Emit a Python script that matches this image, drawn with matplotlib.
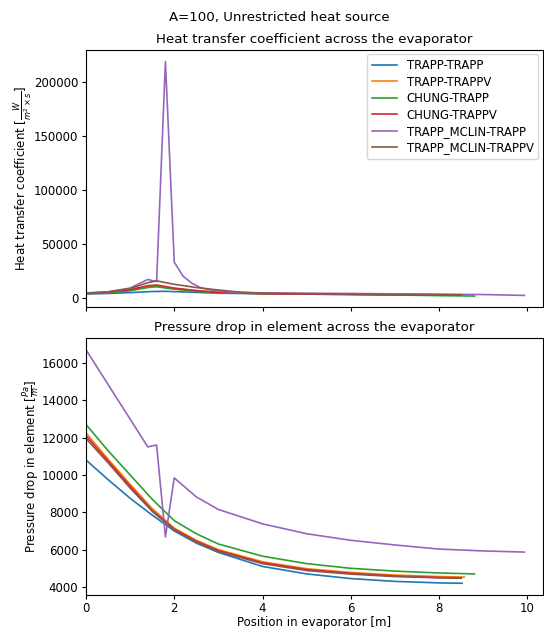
import numpy as np
import matplotlib
matplotlib.use('Agg')
import matplotlib.pyplot as plt

plt.rcParams['font.size'] = 8.5
plt.rcParams['xtick.major.size'] = 3
plt.rcParams['ytick.major.size'] = 3
plt.rcParams['xtick.major.pad'] = 2.0
plt.rcParams['ytick.major.pad'] = 2.5

labels = ['TRAPP-TRAPP', 'TRAPP-TRAPPV', 'CHUNG-TRAPP', 'CHUNG-TRAPPV',
          'TRAPP_MCLIN-TRAPP', 'TRAPP_MCLIN-TRAPPV']
colors = ['#1f77b4', '#ff7f0e', '#2ca02c', '#d62728', '#9467bd', '#8c564b']

# heat transfer coefficient (top panel)
x_htc_blue = [0, 0.5, 1, 1.5, 1.8, 2.5, 3, 4, 5, 6, 7, 8, 8.5]
htc_blue = [3500, 4000, 4800, 5800, 6000, 5000, 4200, 3800, 3500, 3300, 3100, 2900, 2800]
x_htc_orange = [0, 0.5, 1, 1.4, 1.6, 2, 2.5, 3, 4, 5, 6, 7, 8, 8.57]
htc_orange = [4000, 5000, 7000, 10500, 11000, 8500, 6500, 5000, 4000, 3600, 3300, 3000, 2800, 2700]
x_htc_green = [0, 0.5, 1, 1.4, 1.6, 2, 2.5, 3, 4, 5, 6, 7, 8, 8.8]
htc_green = [3800, 4800, 6500, 9500, 10200, 8000, 6000, 4800, 3800, 3400, 3100, 2600, 2000, 1600]
x_htc_red = [0, 0.5, 1, 1.4, 1.6, 2, 2.5, 3, 4, 5, 6, 7, 8, 8.5]
htc_red = [4000, 5200, 7500, 11200, 11800, 9000, 6700, 5000, 3800, 3400, 3000, 2800, 2700, 2600]
x_htc_purple = [0, 0.5, 1, 1.2, 1.4, 1.6, 1.8, 2.0, 2.2, 2.4, 2.6, 2.8, 3.0, 3.4,
                4, 5, 6, 7, 8, 9, 9.93]
htc_purple = [4500, 5500, 9000, 13000, 17000, 15000, 219000, 33000, 20000, 13500,
              9300, 7500, 6200, 5000, 4500, 4200, 4000, 3600, 3300, 3000, 2200]
x_htc_brown = [0, 0.5, 1, 1.4, 1.6, 2, 2.5, 3, 3.5, 4, 5, 6, 7, 8, 8.5]
htc_brown = [4200, 5500, 8500, 14000, 15700, 12500, 9500, 7200, 5200, 4300, 3800, 3400, 3000, 2800, 2700]

# pressure drop (bottom panel)
x_dp_blue = [0, 0.5, 1, 1.5, 2, 2.5, 3, 4, 5, 6, 7, 8, 8.52]
dp_blue = [10800, 9750, 8750, 7850, 7000, 6350, 5850, 5100, 4700, 4450, 4300, 4220, 4200]
x_dp_orange = [0, 0.5, 1, 1.5, 2, 2.5, 3, 4, 5, 6, 7, 8, 8.57]
dp_orange = [12250, 10850, 9500, 8200, 7150, 6500, 6000, 5350, 4980, 4780, 4640, 4560, 4530]
x_dp_green = [0, 0.5, 1, 1.5, 2, 2.5, 3, 4, 5, 6, 7, 8, 8.8]
dp_green = [12700, 11300, 10000, 8700, 7550, 6850, 6300, 5650, 5250, 5000, 4850, 4750, 4700]
x_dp_red = [0, 0.5, 1, 1.5, 2, 2.5, 3, 4, 5, 6, 7, 8, 8.5]
dp_red = [12100, 10750, 9400, 8100, 7100, 6450, 5950, 5300, 4930, 4730, 4590, 4510, 4490]
x_dp_purple = [0, 0.7, 1.4, 1.6, 1.8, 2.0, 2.5, 3, 4, 5, 6, 7, 8, 9, 9.93]
dp_purple = [16700, 14100, 11500, 11600, 6680, 9840, 8820, 8150, 7380, 6850, 6500, 6250, 6030, 5930, 5870]
x_dp_brown = [0, 0.5, 1, 1.5, 2, 2.5, 3, 4, 5, 6, 7, 8, 8.5]
dp_brown = [11950, 10650, 9300, 8050, 7050, 6400, 5900, 5250, 4880, 4690, 4560, 4490, 4470]

htc_x = [x_htc_blue, x_htc_orange, x_htc_green, x_htc_red, x_htc_purple, x_htc_brown]
htc_y = [htc_blue, htc_orange, htc_green, htc_red, htc_purple, htc_brown]
dp_x = [x_dp_blue, x_dp_orange, x_dp_green, x_dp_red, x_dp_purple, x_dp_brown]
dp_y = [dp_blue, dp_orange, dp_green, dp_red, dp_purple, dp_brown]

fig = plt.figure(figsize=(5.44, 6.29), dpi=100)
ax1 = fig.add_axes([0.158, 0.512, 0.84, 0.409])
ax2 = fig.add_axes([0.158, 0.054, 0.84, 0.409])

for xs, ys, lab, col in zip(htc_x, htc_y, labels, colors):
    ax1.plot(xs, ys, color=col, lw=1.2, label=lab)
for xs, ys, lab, col in zip(dp_x, dp_y, labels, colors):
    ax2.plot(xs, ys, color=col, lw=1.2, label=lab)

ax1.set_xlim(0, 10.35)
ax1.set_ylim(-8500, 230000)
ax1.set_yticks([0, 50000, 100000, 150000, 200000])
ax1.set_xticks([0, 2, 4, 6, 8, 10])
ax1.set_xticklabels([])
ax1.set_title('Heat transfer coefficient across the evaporator', fontsize=9.6, pad=5)
ax1.set_ylabel(r'Heat transfer coefficient [$\frac{W}{m^2 \times s}$]')
ax1.yaxis.set_label_coords(-0.112, 0.5)
ax1.legend(loc='upper right', fontsize=8.4, labelspacing=0.3, handlelength=2.2,
           borderaxespad=0.4)

ax2.set_xlim(0, 10.35)
ax2.set_ylim(3570, 17340)
ax2.set_xticks([0, 2, 4, 6, 8, 10])
ax2.set_yticks([4000, 6000, 8000, 10000, 12000, 14000, 16000])
ax2.set_title('Pressure drop in element across the evaporator', fontsize=9.6, pad=5)
ax2.set_ylabel(r'Pressure drop in element [$\frac{Pa}{m}$]')
ax2.yaxis.set_label_coords(-0.096, 0.5)
ax2.set_xlabel('Position in evaporator [m]')
ax2.xaxis.set_label_coords(0.5, -0.08)

fig.suptitle('A=100, Unrestricted heat source', x=0.513, y=0.983, fontsize=9.6)

fig.savefig('out.png', dpi=100)
